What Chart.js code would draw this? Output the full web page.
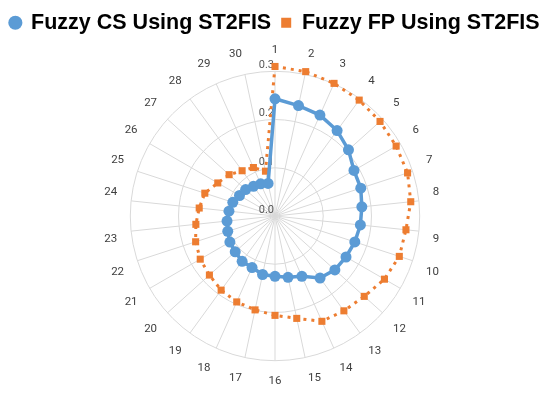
<!DOCTYPE html>
<html lang="en">
<head>
    <meta charset="UTF-8">
    <title>Fuzzy CS vs Fuzzy FP</title>
    <style>
        body { margin: 0; background: #ffffff; }
        .wrap { width: 550px; height: 399px; }
    </style>
</head>
<body>
    <div class="wrap"><canvas id="chart"></canvas></div>

    <script src="https://cdn.jsdelivr.net/npm/chart.js"></script>
    <script>
        const categories = ['1','2','3','4','5','6','7','8','9','10','11','12','13','14','15',
                            '16','17','18','19','20','21','22','23','24','25','26','27','28','29','30'];
        const fuzzyCS = [0.243, 0.234, 0.229, 0.219, 0.205, 0.189, 0.187, 0.181, 0.178, 0.174,
                         0.170, 0.167, 0.159, 0.137, 0.130, 0.125, 0.124, 0.117, 0.116, 0.111,
                         0.108, 0.103, 0.100, 0.096, 0.092, 0.085, 0.082, 0.076, 0.073, 0.069];
        const fuzzyFP = [0.310, 0.306, 0.301, 0.297, 0.293, 0.290, 0.289, 0.283, 0.273, 0.271,
                         0.262, 0.249, 0.243, 0.239, 0.217, 0.206, 0.199, 0.195, 0.190, 0.183,
                         0.179, 0.173, 0.165, 0.158, 0.153, 0.137, 0.128, 0.116, 0.110, 0.095];
        const tickValues = [0.0, 0.1, 0.2, 0.3];

        // tick labels sit just left of the top spoke, like the original
        const tickLabelPlugin = {
            id: 'tickLabels',
            beforeDatasetsDraw(chart) {
                const r = chart.scales.r;
                const c = chart.ctx;
                c.save();
                c.font = '11px Roboto';
                c.fillStyle = '#595959';
                c.textAlign = 'right';
                c.textBaseline = 'middle';
                tickValues.forEach(v => {
                    const d = r.getDistanceFromCenterForValue(v);
                    c.fillText(v.toFixed(1), r.xCenter - 1, r.yCenter - d - 6);
                });
                c.restore();
            }
        };

        const ctx = document.getElementById('chart').getContext('2d');
        new Chart(ctx, {
            type: 'radar',
            plugins: [tickLabelPlugin],
            data: {
                labels: categories,
                datasets: [{
                    label: 'Fuzzy CS Using ST2FIS',
                    data: fuzzyCS,
                    borderColor: '#5B9BD5',
                    backgroundColor: '#5B9BD5',
                    borderWidth: 3.5,
                    pointStyle: 'circle',
                    pointRadius: 5.5,
                    pointBorderWidth: 0,
                    fill: false
                }, {
                    label: 'Fuzzy FP Using ST2FIS',
                    data: fuzzyFP,
                    borderColor: '#ED7D31',
                    backgroundColor: '#ED7D31',
                    borderWidth: 3,
                    borderDash: [3, 5],
                    pointStyle: 'rect',
                    pointRadius: 5,
                    pointBorderWidth: 0,
                    fill: false
                }]
            },
            options: {
                responsive: true,
                maintainAspectRatio: false,
                animation: false,
                layout: { padding: { top: 2, bottom: 9, left: 0, right: 0 } },
                elements: { line: { tension: 0 } },
                plugins: {
                    legend: {
                        position: 'top',
                        labels: {
                            usePointStyle: true,
                            boxWidth: 10,
                            boxHeight: 10,
                            padding: 10,
                            color: '#000000',
                            font: { family: 'Liberation Sans', size: 21.5, weight: 'bold' }
                        }
                    },
                    tooltip: { enabled: false }
                },
                scales: {
                    r: {
                        min: 0,
                        max: 0.3,
                        ticks: { display: false, stepSize: 0.1 },
                        grid: { circular: true, color: '#d9d9d9', lineWidth: 1 },
                        angleLines: { color: '#d9d9d9', lineWidth: 1 },
                        pointLabels: {
                            color: '#404040',
                            padding: 14,
                            font: { family: 'Roboto', size: 11.5 }
                        }
                    }
                }
            }
        });
    </script>
</body>
</html>
